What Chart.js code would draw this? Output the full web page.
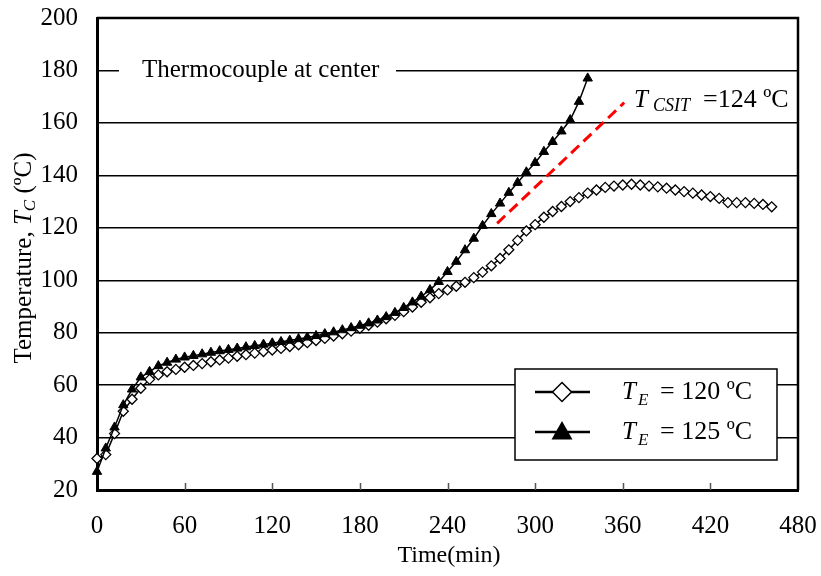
<!DOCTYPE html>
<html>
<head>
<meta charset="utf-8">
<script src="https://cdn.jsdelivr.net/npm/chart.js@4.4.1/dist/chart.umd.min.js"></script>
<style>
  html, body { margin: 0; padding: 0; background: #fff; }
  #wrap { width: 821px; height: 576px; }
</style>
</head>
<body>
<div id="wrap"><canvas id="chart" width="821" height="576"></canvas></div>
<script>
// readings every 6 min
const sampleTimes = [
  0, 6, 12, 18, 24, 30, 36, 42, 48, 54,
  60, 66, 72, 78, 84, 90, 96, 102, 108, 114,
  120, 126, 132, 138, 144, 150, 156, 162, 168, 174,
  180, 186, 192, 198, 204, 210, 216, 222, 228, 234,
  240, 246, 252, 258, 264, 270, 276, 282, 288, 294,
  300, 306, 312, 318, 324, 330, 336, 342, 348, 354,
  360, 366, 372, 378, 384, 390, 396, 402, 408, 414,
  420, 426, 432, 438, 444, 450, 456, 462
];

// centre temperature, T_E = 120 C
const tempE120 = [
  32, 33.5, 41.5, 50, 54.6, 58.8, 62.2, 63.9, 65.1, 66,
  66.8, 67.5, 68.2, 68.9, 69.6, 70.3, 71, 71.6, 72.2, 72.8,
  73.4, 74, 74.7, 75.4, 76.2, 77, 77.8, 78.7, 79.6, 80.6,
  81.7, 82.8, 84, 85.3, 86.6, 88, 89.8, 91.6, 93.3, 94.9,
  96.3, 97.7, 99.2, 101, 103.1, 105.5, 108.3, 111.6, 115.2, 118.8,
  121.2, 124, 126.2, 128.1, 130, 131.5, 133.2, 134.4, 135.4, 135.9,
  136.3, 136.6, 136.3, 135.9, 135.6, 135.1, 134.4, 133.8, 133.2, 132.5,
  131.9, 131.2, 129.6, 129.6, 129.6, 129.3, 128.9, 128
];

// centre temperature, T_E = 125 C (run stops at 336 min)
const tempE125 = [
  27, 35.9, 43.9, 52.4, 58.4, 63, 65.1, 67.3, 68.6, 69.8,
  70.6, 71.2, 71.8, 72.4, 73, 73.5, 74, 74.5, 75, 75.5,
  76, 76.5, 77, 77.6, 78.2, 78.8, 79.5, 80.2, 81, 81.8,
  82.7, 83.6, 84.7, 86, 87.6, 89.5, 91.6, 93.8, 96.3, 99.4,
  103.2, 107.1, 111.5, 115.9, 120.8, 125.3, 129.3, 133.4, 137.2, 141.2,
  144.8, 149, 152.8, 156.8, 161.1, 168.1, 177
];

// self-ignition guide line
const csitTimes = [274, 361];
const csitTemps = [121.7, 167.7];

const xTicks = [0, 60, 120, 180, 240, 300, 360, 420, 480];
const yTicks = [20, 40, 60, 80, 100, 120, 140, 160, 180, 200];

const SERIF = '"Liberation Serif", "Times New Roman", serif';
const font = (size, italic) => (italic ? 'italic ' : '') + size + 'px ' + SERIF;

function toPoints(xs, ys) {
  return ys.map((y, i) => ({ x: xs[i], y: y }));
}

// draw a row of text pieces one after another
function drawRuns(ctx, x, y, runs) {
  runs.forEach(r => {
    ctx.font = font(r.size, r.italic);
    ctx.fillText(r.text, x, y + (r.dy || 0));
    x += ctx.measureText(r.text).width + (r.gap || 0);
  });
  return x;
}
function runsWidth(ctx, runs) {
  let w = 0;
  runs.forEach(r => {
    ctx.font = font(r.size, r.italic);
    w += ctx.measureText(r.text).width + (r.gap || 0);
  });
  return w;
}

// keep the plot box fixed: no extra room for overhanging tick labels
function fixScale(s, size) {
  if (s.isHorizontal()) s.height = size; else s.width = size;
  s.paddingTop = s.paddingBottom = s.paddingLeft = s.paddingRight = 0;
}

const decorations = {
  id: 'decorations',
  beforeDatasetsDraw(chart) {
    const { ctx, chartArea: a, scales } = chart;
    ctx.save();

    // inner tick marks on the time axis
    ctx.strokeStyle = '#555';
    ctx.lineWidth = 1.5;
    xTicks.slice(1, -1).forEach(t => {
      const px = Math.round(scales.x.getPixelForValue(t)) + 0.5;
      ctx.beginPath();
      ctx.moveTo(px, a.bottom);
      ctx.lineTo(px, a.bottom - 7);
      ctx.stroke();
    });

    // plot frame (top and right)
    ctx.strokeStyle = '#000';
    ctx.lineWidth = 2.5;
    ctx.beginPath();
    ctx.moveTo(a.left, a.top);
    ctx.lineTo(a.right, a.top);
    ctx.lineTo(a.right, a.bottom);
    ctx.stroke();

    // caption sitting on the 180 grid line
    const capY = scales.y.getPixelForValue(180);
    ctx.fillStyle = '#fff';
    ctx.fillRect(119, capY - 6, 277, 12);
    ctx.fillStyle = '#000';
    ctx.textBaseline = 'alphabetic';
    ctx.textAlign = 'left';
    ctx.font = font(25, false);
    ctx.fillText('Thermocouple at center', 142, capY + 7);

    // legend box
    const lx = 515, ly = 369, lw = 262, lh = 91;
    ctx.fillStyle = '#fff';
    ctx.fillRect(lx, ly, lw, lh);
    ctx.strokeStyle = '#000';
    ctx.lineWidth = 1.5;
    ctx.strokeRect(lx, ly, lw, lh);

    // legend row 1: open diamond
    ctx.lineWidth = 2.5;
    ctx.beginPath();
    ctx.moveTo(535, 392); ctx.lineTo(590, 392);
    ctx.stroke();
    ctx.beginPath();
    ctx.moveTo(562, 382.5); ctx.lineTo(571.5, 392);
    ctx.lineTo(562, 401.5); ctx.lineTo(552.5, 392);
    ctx.closePath();
    ctx.fillStyle = '#fff';
    ctx.fill();
    ctx.lineWidth = 1.5;
    ctx.stroke();

    // legend row 2: filled triangle
    ctx.lineWidth = 2.5;
    ctx.beginPath();
    ctx.moveTo(535, 432); ctx.lineTo(590, 432);
    ctx.stroke();
    ctx.beginPath();
    ctx.moveTo(562, 421); ctx.lineTo(572.5, 439.5); ctx.lineTo(551.5, 439.5);
    ctx.closePath();
    ctx.fillStyle = '#000';
    ctx.fill();

    ctx.fillStyle = '#000';
    [['= 120 ºC', 399], ['= 125 ºC', 438.5]].forEach(([txt, base]) => {
      ctx.font = font(25, true);
      ctx.fillText('T', 622, base);
      ctx.font = font(17, true);
      ctx.fillText('E', 638, base + 6);
      ctx.font = font(26, false);
      ctx.fillText(txt, 660, base);
    });

    // T_CSIT label
    ctx.font = font(25, true);
    ctx.fillText('T', 634, 107);
    ctx.font = font(18, true);
    ctx.fillText('CSIT', 653, 111);
    ctx.font = font(26, false);
    ctx.fillText('=124 ºC', 703, 107);

    // axis titles
    ctx.textAlign = 'center';
    ctx.textBaseline = 'middle';
    ctx.font = font(24, false);
    ctx.fillText('Time(min)', 449, 556);

    const yTitle = [
      { text: 'Temperature, ', size: 25 },
      { text: 'T', size: 25, italic: true },
      { text: 'C', size: 17, italic: true, dy: 4 },
      { text: ' (ºC)', size: 25 }
    ];
    ctx.translate(31, 258);
    ctx.rotate(-Math.PI / 2);
    ctx.textAlign = 'left';
    ctx.textBaseline = 'alphabetic';
    drawRuns(ctx, -runsWidth(ctx, yTitle) / 2, 0, yTitle);

    ctx.restore();
  }
};

new Chart(document.getElementById('chart'), {
  type: 'scatter',
  data: {
    datasets: [
      {
        label: 'T_E = 125 ºC',
        data: toPoints(sampleTimes, tempE125),
        showLine: true,
        borderColor: '#000',
        borderWidth: 1.5,
        pointStyle: 'triangle',
        pointRadius: 5.4,
        pointBackgroundColor: '#000',
        pointBorderColor: '#000',
        pointBorderWidth: 1,
        order: 0,
        clip: false
      },
      {
        label: 'T_E = 120 ºC',
        data: toPoints(sampleTimes, tempE120),
        showLine: true,
        borderColor: '#000',
        borderWidth: 1.5,
        pointStyle: 'rectRot',
        pointRadius: 5,
        pointBackgroundColor: '#fff',
        pointBorderColor: '#000',
        pointBorderWidth: 1.3,
        order: 1,
        clip: false
      },
      {
        label: 'T_CSIT',
        data: toPoints(csitTimes, csitTemps),
        showLine: true,
        borderColor: '#ff0000',
        borderWidth: 3,
        borderDash: [11, 6],
        pointRadius: 0,
        order: 2
      }
    ]
  },
  options: {
    responsive: false,
    animation: false,
    layout: { padding: { top: 18, right: 23, left: 0, bottom: 0 } },
    plugins: { legend: { display: false }, tooltip: { enabled: false } },
    scales: {
      x: {
        type: 'linear',
        min: xTicks[0],
        max: xTicks[xTicks.length - 1],
        afterFit: s => fixScale(s, 86),
        ticks: {
          stepSize: xTicks[1] - xTicks[0],
          color: '#000',
          padding: 21,
          font: { family: SERIF, size: 25 }
        },
        grid: { display: false, drawTicks: false },
        border: { display: true, color: '#000', width: 3 }
      },
      y: {
        min: yTicks[0],
        max: yTicks[yTicks.length - 1],
        afterFit: s => fixScale(s, 97),
        ticks: {
          stepSize: yTicks[1] - yTicks[0],
          color: '#000',
          padding: 19,
          font: { family: SERIF, size: 25 }
        },
        grid: { color: '#000', lineWidth: 1.4, drawTicks: false },
        border: { display: true, color: '#000', width: 3 }
      }
    }
  },
  plugins: [decorations]
});
</script>
</body>
</html>
